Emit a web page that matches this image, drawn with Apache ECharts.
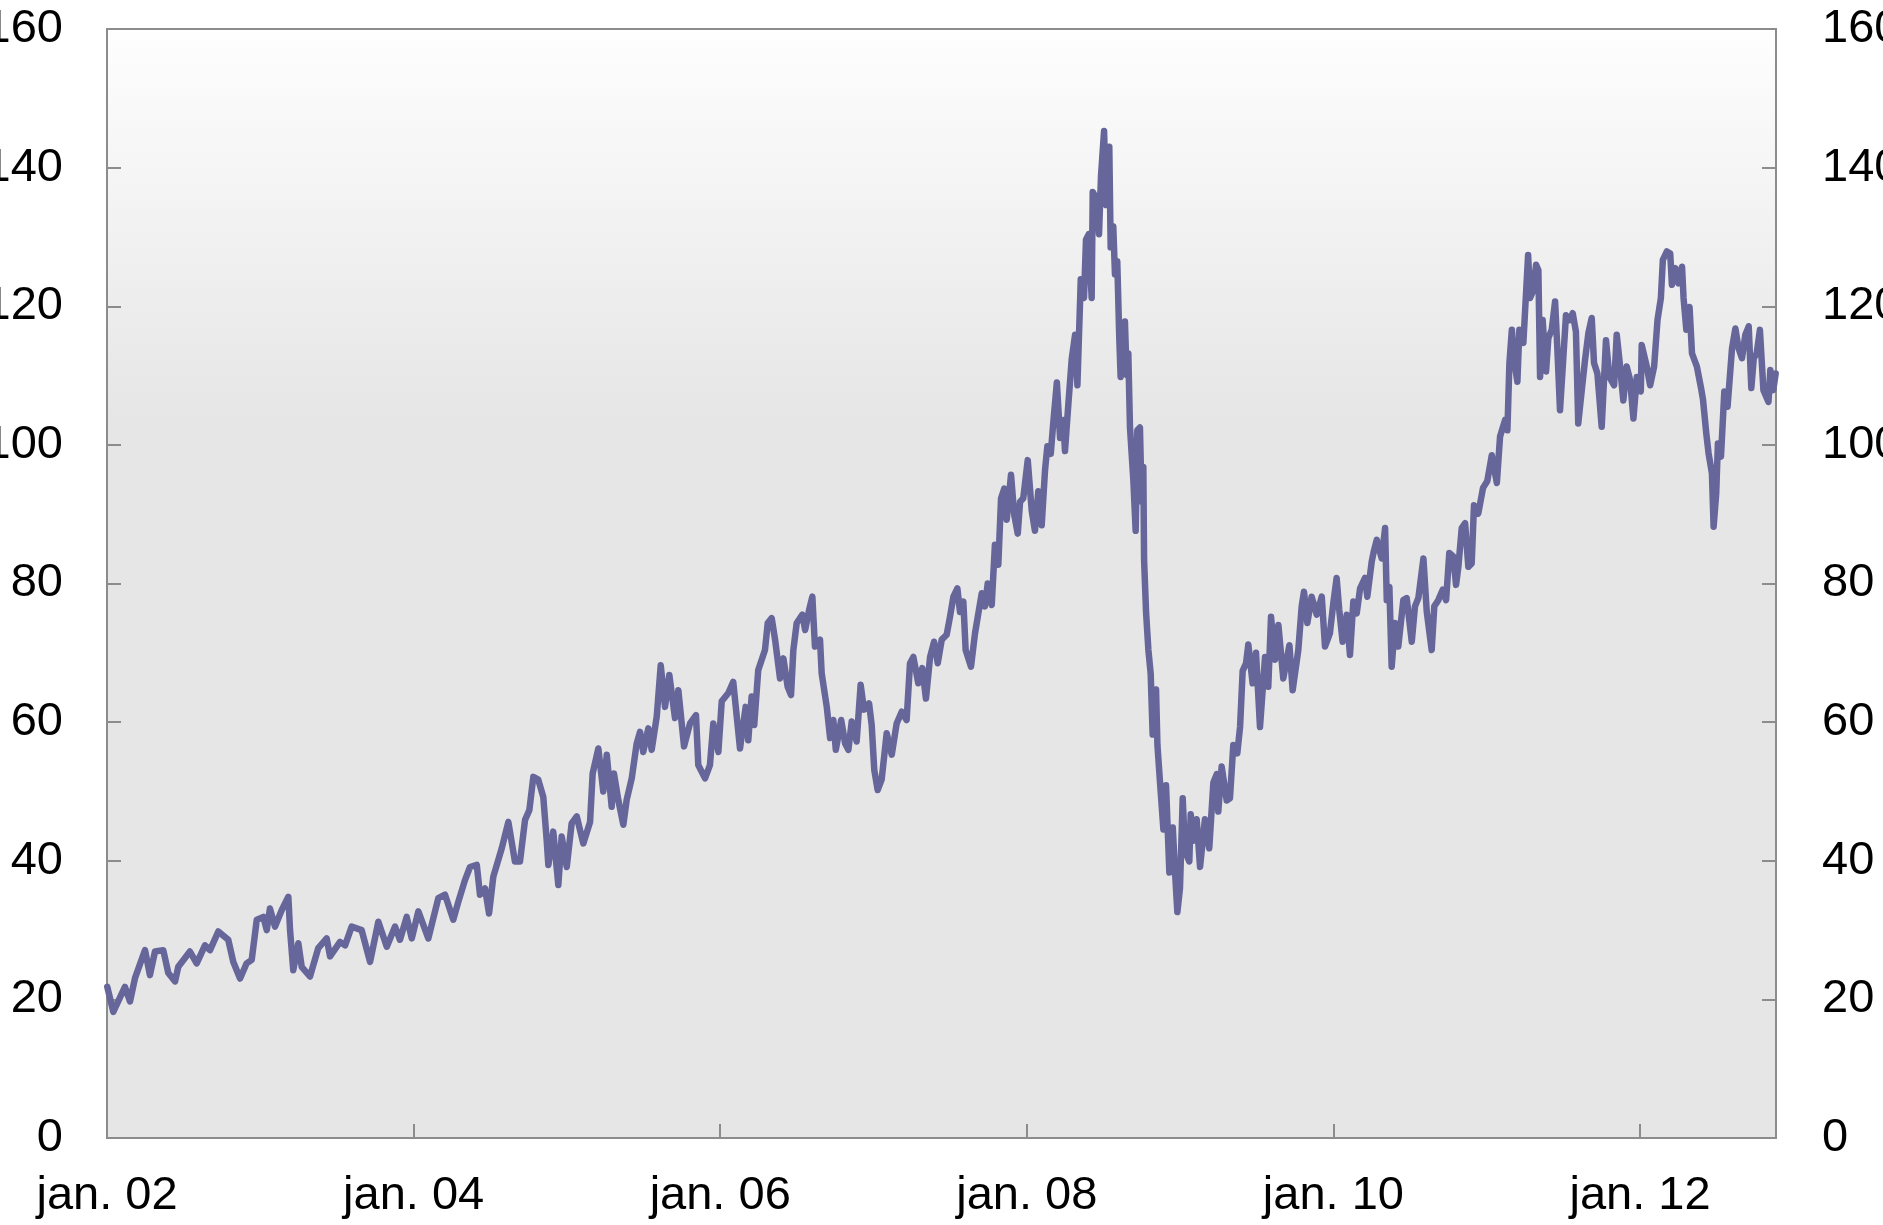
<!DOCTYPE html>
<html>
<head>
<meta charset="utf-8">
<title>Oljepris</title>
<script src="https://cdn.jsdelivr.net/npm/echarts@6/dist/echarts.min.js"></script>
<style>
  html, body { margin: 0; padding: 0; background: #fff; }
  #chart { width: 1883px; height: 1225px; }
</style>
</head>
<body>
<div id="chart"></div>
<script>
// tid i desimalår (2002.0 = jan. 02)
const years = [
  2002.002, 2002.041, 2002.117, 2002.150, 2002.183, 2002.248, 2002.280, 2002.313, 2002.367, 2002.400,
  2002.444, 2002.465, 2002.541, 2002.585, 2002.639, 2002.672, 2002.726, 2002.791, 2002.824, 2002.868,
  2002.911, 2002.944, 2002.977, 2003.020, 2003.042, 2003.063, 2003.096, 2003.140, 2003.183, 2003.194,
  2003.215, 2003.248, 2003.270, 2003.324, 2003.378, 2003.433, 2003.455, 2003.520, 2003.553, 2003.596,
  2003.661, 2003.716, 2003.770, 2003.825, 2003.879, 2003.911, 2003.955, 2003.988, 2004.031, 2004.096,
  2004.161, 2004.205, 2004.259, 2004.292, 2004.335, 2004.368, 2004.412, 2004.433, 2004.466, 2004.492,
  2004.520, 2004.575, 2004.618, 2004.661, 2004.694, 2004.727, 2004.755, 2004.781, 2004.813, 2004.846,
  2004.868, 2004.879, 2004.911, 2004.944, 2004.966, 2004.999, 2005.031, 2005.064, 2005.107, 2005.151,
  2005.168, 2005.205, 2005.237, 2005.260, 2005.292, 2005.307, 2005.335, 2005.368, 2005.390, 2005.423,
  2005.455, 2005.477, 2005.498, 2005.531, 2005.553, 2005.586, 2005.612, 2005.640, 2005.668, 2005.705,
  2005.727, 2005.764, 2005.803, 2005.842, 2005.857, 2005.901, 2005.933, 2005.955, 2005.988, 2006.010,
  2006.053, 2006.085, 2006.129, 2006.166, 2006.183, 2006.205, 2006.222, 2006.248, 2006.292, 2006.310,
  2006.336, 2006.358, 2006.390, 2006.412, 2006.440, 2006.462, 2006.477, 2006.499, 2006.536, 2006.554,
  2006.580, 2006.601, 2006.618, 2006.651, 2006.662, 2006.695, 2006.717, 2006.738, 2006.754, 2006.789,
  2006.815, 2006.836, 2006.858, 2006.890, 2006.916, 2006.938, 2006.971, 2006.988, 2007.005, 2007.027,
  2007.053, 2007.086, 2007.119, 2007.151, 2007.184, 2007.216, 2007.238, 2007.260, 2007.292, 2007.318,
  2007.342, 2007.369, 2007.395, 2007.419, 2007.445, 2007.477, 2007.499, 2007.521, 2007.547, 2007.564,
  2007.586, 2007.601, 2007.636, 2007.662, 2007.684, 2007.706, 2007.727, 2007.745, 2007.771, 2007.792,
  2007.814, 2007.832, 2007.853, 2007.869, 2007.897, 2007.918, 2007.941, 2007.956, 2007.977, 2008.006,
  2008.032, 2008.053, 2008.075, 2008.097, 2008.119, 2008.134, 2008.156, 2008.173, 2008.196, 2008.217,
  2008.238, 2008.249, 2008.271, 2008.293, 2008.315, 2008.330, 2008.352, 2008.373, 2008.386, 2008.404,
  2008.423, 2008.430, 2008.460, 2008.471, 2008.484, 2008.504, 2008.517, 2008.538, 2008.547, 2008.564,
  2008.575, 2008.590, 2008.603, 2008.612, 2008.640, 2008.651, 2008.662, 2008.673, 2008.695, 2008.710,
  2008.721, 2008.738, 2008.749, 2008.760, 2008.765, 2008.778, 2008.793, 2008.808, 2008.821, 2008.843,
  2008.852, 2008.869, 2008.891, 2008.908, 2008.930, 2008.952, 2008.967, 2008.982, 2008.999, 2009.017,
  2009.032, 2009.060, 2009.069, 2009.086, 2009.108, 2009.130, 2009.162, 2009.190, 2009.217, 2009.239,
  2009.249, 2009.271, 2009.304, 2009.325, 2009.347, 2009.373, 2009.391, 2009.408, 2009.430, 2009.445,
  2009.473, 2009.495, 2009.521, 2009.554, 2009.575, 2009.593, 2009.619, 2009.641, 2009.673, 2009.713,
  2009.734, 2009.771, 2009.793, 2009.808, 2009.830, 2009.858, 2009.891, 2009.924, 2009.945, 2009.977,
  2009.999, 2010.021, 2010.038, 2010.060, 2010.087, 2010.108, 2010.130, 2010.152, 2010.174, 2010.206,
  2010.221, 2010.250, 2010.265, 2010.283, 2010.315, 2010.337, 2010.348, 2010.365, 2010.380, 2010.402,
  2010.423, 2010.456, 2010.478, 2010.511, 2010.532, 2010.554, 2010.587, 2010.609, 2010.641, 2010.658,
  2010.684, 2010.713, 2010.735, 2010.756, 2010.782, 2010.800, 2010.815, 2010.837, 2010.859, 2010.880,
  2010.902, 2010.917, 2010.945, 2010.976, 2011.004, 2011.033, 2011.066, 2011.087, 2011.120, 2011.135,
  2011.148, 2011.164, 2011.179, 2011.200, 2011.213, 2011.239, 2011.257, 2011.270, 2011.283, 2011.304,
  2011.322, 2011.337, 2011.348, 2011.365, 2011.387, 2011.402, 2011.424, 2011.446, 2011.461, 2011.478,
  2011.496, 2011.517, 2011.543, 2011.561, 2011.582, 2011.597, 2011.620, 2011.641, 2011.663, 2011.685,
  2011.700, 2011.722, 2011.750, 2011.778, 2011.800, 2011.831, 2011.848, 2011.866, 2011.891, 2011.913,
  2011.935, 2011.957, 2011.979, 2012.005, 2012.011, 2012.044, 2012.066, 2012.092, 2012.114, 2012.136,
  2012.149, 2012.175, 2012.197, 2012.208, 2012.230, 2012.251, 2012.274, 2012.284, 2012.302, 2012.323,
  2012.339, 2012.371, 2012.398, 2012.411, 2012.432, 2012.447, 2012.469, 2012.480, 2012.497, 2012.508,
  2012.528, 2012.550, 2012.571, 2012.600, 2012.622, 2012.643, 2012.665, 2012.687, 2012.709, 2012.726,
  2012.742, 2012.761, 2012.782, 2012.805, 2012.838, 2012.850, 2012.869, 2012.885
];

const prices = [
  21.8, 18.2, 21.8, 19.7, 23.1, 27.1, 23.5, 26.9, 27.1, 23.8,
  22.6, 24.7, 26.9, 25.2, 27.8, 27.1, 29.8, 28.6, 25.4, 23.0,
  25.2, 25.7, 31.5, 31.9, 30.0, 33.1, 30.5, 32.9, 34.8, 30.0,
  24.2, 28.1, 24.7, 23.3, 27.4, 28.8, 26.2, 28.3, 27.8, 30.5,
  30.0, 25.4, 31.2, 27.6, 30.5, 28.6, 31.9, 28.8, 32.7, 28.8,
  34.6, 35.1, 31.5, 34.1, 37.2, 39.1, 39.4, 35.1, 36.0, 32.4,
  37.7, 41.8, 45.6, 39.9, 39.9, 45.9, 47.3, 52.1, 51.7, 49.2,
  43.0, 39.4, 44.2, 36.5, 43.5, 39.1, 45.4, 46.4, 42.5, 45.6,
  52.6, 56.2, 50.0, 55.3, 47.8, 52.6, 48.8, 45.2, 48.8, 51.9,
  56.9, 58.6, 55.7, 59.1, 56.0, 60.8, 68.2, 62.2, 66.8, 60.6,
  64.6, 56.5, 59.8, 61.0, 53.8, 51.9, 53.8, 59.8, 55.7, 63.0,
  64.2, 65.8, 56.2, 62.2, 57.4, 63.7, 59.6, 67.5, 70.4, 74.3,
  75.0, 71.9, 66.3, 69.2, 65.1, 63.9, 70.4, 74.3, 75.5, 73.3,
  76.2, 78.1, 70.9, 71.9, 67.0, 62.2, 57.7, 60.3, 56.0, 60.3,
  56.9, 56.0, 60.1, 57.2, 65.4, 61.8, 62.7, 59.6, 53.1, 50.2,
  51.7, 58.4, 55.3, 59.8, 61.5, 60.3, 68.5, 69.4, 65.6, 67.8,
  63.4, 69.4, 71.6, 68.5, 71.9, 72.6, 75.2, 78.1, 79.3, 75.9,
  77.4, 70.4, 68.0, 72.8, 75.7, 78.6, 76.7, 80.0, 76.9, 85.6,
  82.7, 92.3, 93.7, 89.2, 95.7, 89.9, 87.2, 91.8, 92.3, 97.8,
  90.5, 87.6, 93.3, 88.4, 96.4, 99.8, 98.7, 103.3, 109.0, 101.0,
  103.6, 99.1, 105.9, 112.4, 115.9, 108.6, 123.9, 121.2, 129.6, 130.4,
  121.2, 136.5, 135.3, 130.4, 138.8, 145.3, 134.6, 143.0, 128.5, 131.5,
  124.6, 126.5, 115.5, 109.8, 117.8, 110.1, 113.2, 102.5, 94.9, 87.6,
  102.1, 102.5, 91.8, 96.8, 83.4, 75.8, 70.4, 67.0, 58.2, 64.7,
  56.7, 51.3, 44.5, 50.9, 38.3, 44.8, 38.3, 32.6, 36.0, 49.0,
  41.4, 39.9, 46.7, 42.9, 46.0, 39.1, 46.0, 41.8, 51.3, 52.5,
  47.1, 53.6, 48.7, 49.0, 56.7, 55.5, 59.3, 67.4, 68.5, 71.2,
  65.6, 70.0, 59.3, 69.4, 65.1, 75.2, 69.0, 74.0, 66.3, 71.1,
  64.6, 70.4, 76.7, 78.8, 74.3, 78.1, 75.5, 78.1, 70.9, 72.8,
  77.1, 80.8, 76.2, 71.6, 75.5, 69.7, 77.4, 75.7, 79.3, 80.8,
  78.1, 83.2, 84.8, 86.3, 83.6, 88.0, 77.6, 79.5, 68.0, 74.3,
  70.9, 77.6, 77.9, 71.6, 76.7, 77.9, 83.6, 75.9, 70.4, 76.7,
  77.6, 79.1, 77.6, 84.4, 83.9, 79.8, 82.4, 88.0, 88.7, 82.4,
  82.9, 91.3, 90.1, 93.8, 94.8, 98.5, 94.5, 101.2, 103.6, 102.1,
  111.8, 116.6, 112.2, 109.1, 116.6, 114.7, 122.1, 127.4, 121.2, 122.3,
  126.0, 125.2, 109.8, 118.0, 110.6, 115.4, 116.6, 120.7, 113.7, 105.0,
  111.3, 118.7, 118.0, 119.0, 116.3, 103.1, 107.9, 112.2, 116.1, 118.3,
  111.8, 110.3, 102.6, 115.1, 109.8, 108.6, 115.9, 112.2, 106.4, 111.3,
  109.4, 103.8, 109.8, 107.7, 114.4, 111.3, 108.6, 111.3, 118.0, 121.2,
  126.7, 127.9, 127.6, 123.1, 125.5, 123.3, 125.7, 121.2, 116.6, 119.9,
  113.2, 111.3, 108.2, 106.5, 101.7, 98.8, 95.9, 88.2, 93.0, 100.2,
  98.3, 107.7, 105.5, 113.9, 116.8, 113.9, 112.5, 115.9, 117.1, 108.2,
  112.5, 113.2, 116.6, 107.9, 106.2, 110.8, 107.9, 110.3
];

const xStart = 2002;
const xEnd = 2012.887;
const yTicks = [0, 20, 40, 60, 80, 100, 120, 140, 160];

const axisGrey = '#8c8c8c';
const fontName = '"Liberation Sans", Arial, sans-serif';

let chart = echarts.init(document.getElementById('chart'));

let yAxisBase = function (pos, margin) {
  return {
    type: 'value',
    position: pos,
    min: yTicks[0],
    max: yTicks[yTicks.length - 1],
    interval: yTicks[1] - yTicks[0],
    splitLine: { show: false },
    axisLine: { show: true, lineStyle: { color: axisGrey, width: 2 } },
    axisTick: { show: true, inside: true, length: 14, lineStyle: { color: axisGrey, width: 2 } },
    axisLabel: { margin: margin, color: '#000', fontSize: 47, fontFamily: fontName }
  };
};

let option = {
  animation: false,
  backgroundColor: '#fff',
  grid: {
    left: 107,
    right: 107,
    top: 29,
    bottom: 87,
    containLabel: false,
    outerBoundsMode: 'none',
    show: true,
    borderColor: axisGrey,
    borderWidth: 2,
    backgroundColor: {
      type: 'linear', x: 0, y: 0, x2: 0, y2: 1,
      colorStops: [
        { offset: 0, color: '#fefefe' },
        { offset: 0.35, color: '#e6e6e6' },
        { offset: 1, color: '#e6e6e6' }
      ]
    }
  },
  xAxis: {
    type: 'value',
    min: xStart,
    max: xEnd,
    interval: 2,
    splitLine: { show: false },
    axisLine: { show: true, onZero: false, lineStyle: { color: axisGrey, width: 2 } },
    axisTick: { show: true, inside: true, length: 14, lineStyle: { color: axisGrey, width: 2 } },
    axisLabel: {
      margin: 35,
      color: '#000',
      fontSize: 47,
      fontFamily: fontName,
      showMaxLabel: false,
      formatter: function (v) {
        if (Math.abs(v - Math.round(v)) > 1e-6 || Math.round(v) % 2 !== 0) return '';
        return 'jan. ' + String(Math.round(v) % 100).padStart(2, '0');
      }
    }
  },
  yAxis: [yAxisBase('left', 44), yAxisBase('right', 46)],
  series: [
    {
      type: 'line',
      data: years.map((y, i) => [y, prices[i]]),
      showSymbol: false,
      symbol: 'none',
      lineStyle: { color: '#66669a', width: 6.5, cap: 'round', join: 'round' }
    }
  ]
};

chart.setOption(option, true);
</script>
</body>
</html>
